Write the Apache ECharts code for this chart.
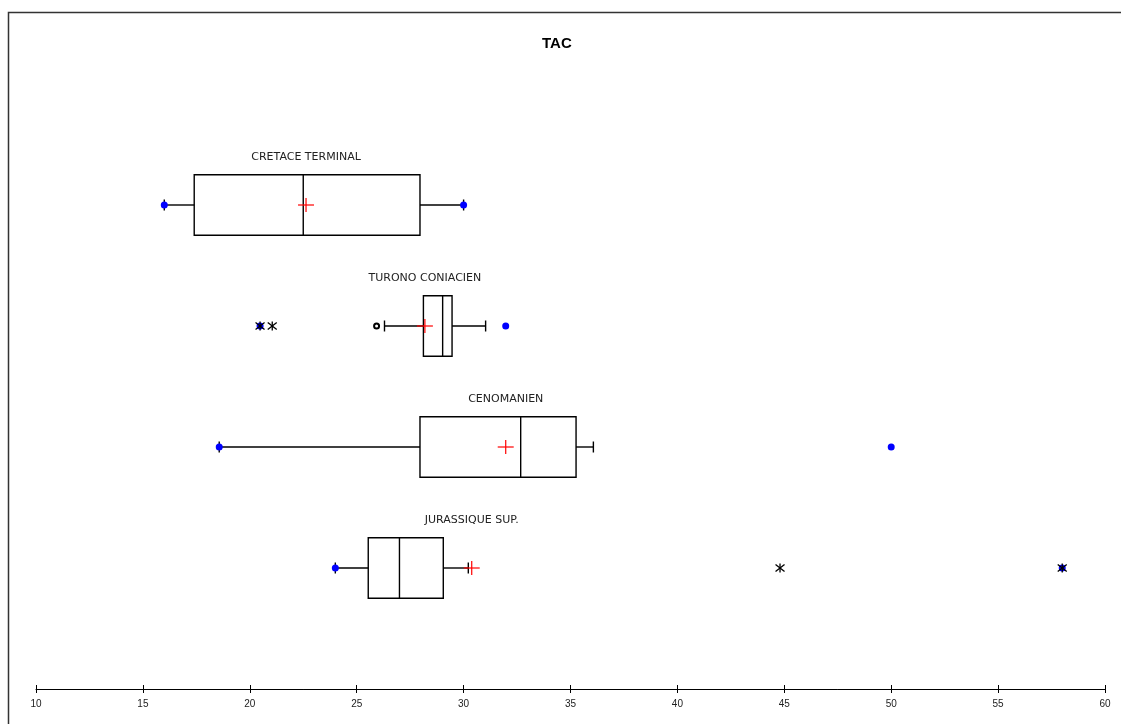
<!DOCTYPE html>
<html>
<head>
<meta charset="utf-8">
<script src="https://cdn.jsdelivr.net/npm/echarts@6/dist/echarts.min.js"></script>
<style>
html, body { margin: 0; padding: 0; background: #fff; }
#main { width: 1121px; height: 724px; }
</style>
</head>
<body>
<div id="main"></div>
<script>
// groups, top to bottom
var categories = ['CRETACE TERMINAL', 'TURONO CONIACIEN', 'CENOMANIEN', 'JURASSIQUE SUP.'];
var whiskerLow = [16.0, 26.3, 18.57, 24.0];
var q1 = [17.4, 28.12, 27.96, 25.54];
var median = [22.5, 29.02, 32.67, 27.0];
var q3 = [27.96, 29.46, 35.26, 29.05];
var whiskerHigh = [30.0, 31.03, 36.07, 30.22];
var means = [22.63, 28.19, 31.97, 30.38];
var minima = [16.0, 20.48, 18.57, 24.0];
var maxima = [30.0, 31.97, 50.0, 58.0];
var mildOutliers = [[], [25.93], [], []];
var farOutliers = [[], [20.48, 21.05], [], [44.8, 58.0]];
var xTicks = [10, 60, 5]; // min, max, step

var n = categories.length;
function yPos(i) { return n - i; }

var boxData = categories.map(function (c, i) {
    return [yPos(i), whiskerLow[i], q1[i], median[i], q3[i], whiskerHigh[i], means[i]];
});
var meanData = means.map(function (m, i) { return [m, yPos(i)]; });
var dotData = [];
minima.forEach(function (v, i) { dotData.push([v, yPos(i)]); });
maxima.forEach(function (v, i) { dotData.push([v, yPos(i)]); });
var mildData = [];
mildOutliers.forEach(function (arr, i) { arr.forEach(function (v) { mildData.push([v, yPos(i)]); }); });
var farData = [];
farOutliers.forEach(function (arr, i) { arr.forEach(function (v) { farData.push([v, yPos(i)]); }); });

var lineStyle = { stroke: '#000', lineWidth: 1.4, fill: null };

function renderBox(params, api) {
    var y = api.value(0);
    var lo = api.coord([api.value(1), y]);
    var a = api.coord([api.value(2), y + 0.25]);
    var b = api.coord([api.value(4), y - 0.25]);
    var md = api.coord([api.value(3), y]);
    var hi = api.coord([api.value(5), y]);
    var mn = api.coord([api.value(6), y]);
    var cap = 5.5;
    return {
        type: 'group',
        children: [
            { type: 'rect', shape: { x: a[0], y: a[1], width: b[0] - a[0], height: b[1] - a[1] }, style: lineStyle },
            { type: 'line', shape: { x1: md[0], y1: a[1], x2: md[0], y2: b[1] }, style: lineStyle },
            { type: 'line', shape: { x1: lo[0], y1: lo[1], x2: a[0], y2: lo[1] }, style: lineStyle },
            { type: 'line', shape: { x1: b[0], y1: hi[1], x2: hi[0], y2: hi[1] }, style: lineStyle },
            { type: 'line', shape: { x1: lo[0], y1: lo[1] - cap, x2: lo[0], y2: lo[1] + cap }, style: lineStyle },
            { type: 'line', shape: { x1: hi[0], y1: hi[1] - cap, x2: hi[0], y2: hi[1] + cap }, style: lineStyle },
            {
                type: 'text',
                style: {
                    text: categories[params.dataIndex],
                    x: mn[0], y: a[1] - 18,
                    align: 'center', verticalAlign: 'middle',
                    fill: '#222',
                    font: '11px "DejaVu Sans"'
                }
            }
        ]
    };
}

function renderCross(params, api) {
    var p = api.coord([api.value(0), api.value(1)]);
    var s = { stroke: '#ff0000', lineWidth: 1.2 };
    return {
        type: 'group',
        children: [
            { type: 'line', shape: { x1: p[0] - 8, y1: p[1], x2: p[0] + 8, y2: p[1] }, style: s },
            { type: 'line', shape: { x1: p[0], y1: p[1] - 7, x2: p[0], y2: p[1] + 7 }, style: s }
        ]
    };
}

function renderStar(params, api) {
    var p = api.coord([api.value(0), api.value(1)]);
    var s = { stroke: '#000', lineWidth: 1.3 };
    var r = 4.5;
    return {
        type: 'group',
        children: [
            { type: 'line', shape: { x1: p[0], y1: p[1] - r, x2: p[0], y2: p[1] + r }, style: s },
            { type: 'line', shape: { x1: p[0] - r, y1: p[1] - r * 0.8, x2: p[0] + r, y2: p[1] + r * 0.8 }, style: s },
            { type: 'line', shape: { x1: p[0] - r, y1: p[1] + r * 0.8, x2: p[0] + r, y2: p[1] - r * 0.8 }, style: s }
        ]
    };
}

var chart = echarts.init(document.getElementById('main'));
var option = {
    animation: false,
    backgroundColor: '#fff',
    title: {
        text: 'TAC',
        left: 537,
        top: 31,
        textStyle: { fontFamily: 'Liberation Sans', fontSize: 15, fontWeight: 'bold', color: '#000' }
    },
    graphic: [{
        type: 'rect',
        left: 6, top: 10,
        shape: { width: 1300, height: 900 },
        style: { fill: null, stroke: '#333', lineWidth: 1.5 },
        silent: true
    }],
    grid: { left: 36, right: 16, top: 84, bottom: 35 },
    xAxis: [{
        type: 'value',
        min: xTicks[0], max: xTicks[1], interval: xTicks[2],
        axisLine: { lineStyle: { color: '#000', width: 1 } },
        axisTick: { length: 4, lineStyle: { color: '#000' } },
        axisLabel: { fontSize: 10, color: '#222', fontFamily: 'Liberation Sans', margin: 10 },
        splitLine: { show: false }
    }, {
        type: 'value',
        position: 'bottom',
        min: xTicks[0], max: xTicks[1], interval: xTicks[2],
        axisLine: { show: false },
        axisTick: { inside: true, length: 4, lineStyle: { color: '#000' } },
        axisLabel: { show: false },
        splitLine: { show: false }
    }],
    yAxis: { type: 'value', min: 0, max: 5, show: false },
    series: [{
        type: 'custom',
        renderItem: renderBox,
        encode: { x: [1, 2, 3, 4, 5, 6], y: 0 },
        data: boxData,
        z: 2
    }, {
        type: 'scatter',
        symbol: 'circle',
        symbolSize: 7,
        itemStyle: { color: '#0000ff', opacity: 1 },
        data: dotData,
        z: 3
    }, {
        type: 'scatter',
        symbol: 'emptyCircle',
        symbolSize: 5,
        itemStyle: { color: '#000', borderColor: '#000', borderWidth: 1.2, opacity: 1 },
        data: mildData,
        z: 3
    }, {
        type: 'custom',
        renderItem: renderStar,
        encode: { x: 0, y: 1 },
        data: farData,
        z: 4
    }, {
        type: 'custom',
        renderItem: renderCross,
        encode: { x: 0, y: 1 },
        data: meanData,
        z: 5
    }]
};
chart.setOption(option);
</script>
</body>
</html>
